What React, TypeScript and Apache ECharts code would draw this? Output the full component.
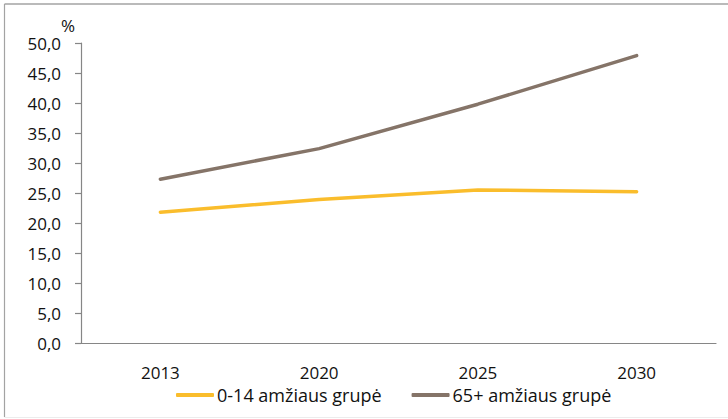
import React, { useEffect, useRef } from "react";
import * as echarts from "echarts";

// Population age-group shares, % of total
const years = ["2013", "2020", "2025", "2030"];
const children = [21.8, 23.9, 25.5, 25.2];
const seniors = [27.3, 32.4, 39.8, 47.9];
const seriesNames = ["0-14 amžiaus grupė", "65+ amžiaus grupė"];

const FONT = "'Open Sans', sans-serif";
const AXIS_COLOR = "#868686";
const YELLOW = "#fabd2c";
const TAUPE = "#857468";

export default function App() {
  const ref = useRef<HTMLDivElement>(null);

  useEffect(() => {
    if (!ref.current) return;
    const chart = echarts.init(ref.current, undefined, { renderer: "svg" });
    chart.setOption({
      animation: false,
      backgroundColor: "#ffffff",
      textStyle: { fontFamily: FONT },
      grid: { left: 81, right: 12, top: 43, bottom: 76, containLabel: false },
      graphic: [
        {
          type: "line",
          shape: { x1: 4.5, y1: 4, x2: 728, y2: 4 },
          style: { stroke: "#a3a3a3", lineWidth: 1.5 },
        },
        {
          type: "line",
          shape: { x1: 4.5, y1: 4, x2: 4.5, y2: 417 },
          style: { stroke: "#a3a3a3", lineWidth: 1.2 },
        },
        {
          type: "line",
          shape: { x1: 4.5, y1: 417.5, x2: 728, y2: 417.5 },
          style: { stroke: "#ececec", lineWidth: 1 },
        },
        {
          type: "text",
          x: 68,
          y: 25,
          style: {
            text: "%",
            fontFamily: FONT,
            fontSize: 17,
            fill: "#111",
            align: "center",
            verticalAlign: "middle",
          },
        },
      ],
      legend: {
        left: 176,
        top: 386,
        padding: 0,
        icon: "roundRect",
        itemWidth: 38,
        itemHeight: 4,
        itemGap: 30,
        textStyle: {
          fontFamily: FONT,
          fontSize: 18,
          lineHeight: 16,
          color: "#111",
          padding: [0, 0, 0, -2],
        },
        data: seriesNames,
      },
      xAxis: {
        type: "category",
        data: years,
        boundaryGap: true,
        axisLine: { lineStyle: { color: AXIS_COLOR, width: 1.2 } },
        axisTick: { length: 6, lineStyle: { color: AXIS_COLOR, width: 1.2 } },
        axisLabel: { fontFamily: FONT, fontSize: 17, lineHeight: 15, color: "#111", margin: 22 },
      },
      yAxis: {
        type: "value",
        min: 0,
        max: 50,
        interval: 5,
        axisLine: { show: true, lineStyle: { color: AXIS_COLOR, width: 1.2 } },
        axisTick: { show: true, length: 6, lineStyle: { color: AXIS_COLOR, width: 1.2 } },
        splitLine: { show: false },
        axisLabel: {
          fontFamily: FONT,
          fontSize: 17,
          color: "#111",
          margin: 20,
          formatter: (v: number) => v.toFixed(1).replace(".", ","),
        },
      },
      series: [
        {
          name: seriesNames[0],
          type: "line",
          data: children,
          symbol: "none",
          lineStyle: { color: YELLOW, width: 3.5, cap: "round" },
          itemStyle: { color: YELLOW },
        },
        {
          name: seriesNames[1],
          type: "line",
          data: seniors,
          symbol: "none",
          lineStyle: { color: TAUPE, width: 3.5, cap: "round" },
          itemStyle: { color: TAUPE },
        },
      ],
    });
    return () => chart.dispose();
  }, []);

  return (
    <div
      ref={ref}
      style={{ position: "fixed", left: 0, top: 0, width: 728, height: 419, background: "#fff" }}
    />
  );
}
